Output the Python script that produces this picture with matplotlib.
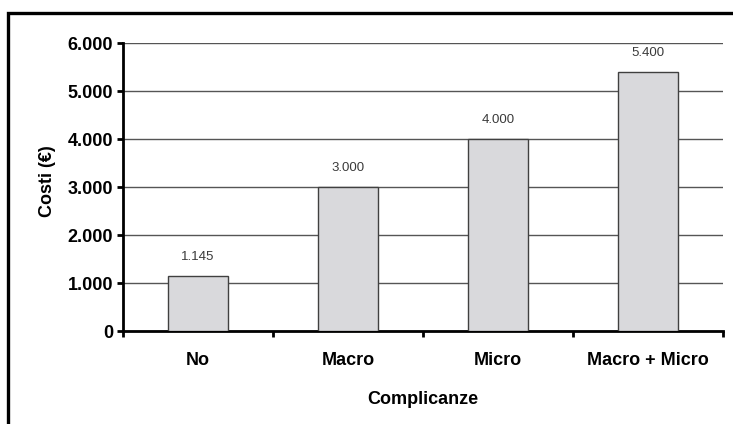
import matplotlib
matplotlib.use("Agg")
from matplotlib import pyplot as plt
from matplotlib.patches import Rectangle

categorie = ["No", "Macro", "Micro", "Macro + Micro"]
costi = [1145, 3000, 4000, 5400]
etichette = ["1.145", "3.000", "4.000", "5.400"]
yticks = [0, 1000, 2000, 3000, 4000, 5000, 6000]
ytick_labels = ["0", "1.000", "2.000", "3.000", "4.000", "5.000", "6.000"]

plt.rcParams['font.family'] = ['Liberation Sans', 'DejaVu Sans']

fig = plt.figure(figsize=(7.33, 4.24), dpi=100)
ax = fig.add_axes([123 / 733, 93 / 424, 600 / 733, 288 / 424])

# cornice esterna attorno al grafico
fig.patches.append(Rectangle((8 / 733, -0.1), 1.2, (424 - 13) / 424 + 0.1,
                             transform=fig.transFigure, fill=False,
                             edgecolor='black', linewidth=2.4, clip_on=False))

x = list(range(len(categorie)))
ax.bar(x, costi, width=0.4, color='#d9d9dc', edgecolor='#404040',
       linewidth=1.0, zorder=3)

for xi, v, lab in zip(x, costi, etichette):
    ax.annotate(lab, (xi, v), xytext=(0, 13.5), textcoords='offset points',
                ha='center', va='center', fontsize=9.5, color='#3a3a3a')

ax.set_xlim(-0.5, 3.5)
ax.set_ylim(0, 6000)
ax.set_yticks(yticks)
ax.set_yticklabels(ytick_labels, fontsize=13, fontweight='bold')
ax.yaxis.grid(True, color='#555555', linewidth=1.0, zorder=0)
ax.set_axisbelow(True)

# tacche sui confini delle categorie, etichette al centro
ax.set_xticks([-0.5, 0.5, 1.5, 2.5, 3.5])
ax.set_xticklabels([])
ax.set_xticks(x, minor=True)
ax.set_xticklabels(categorie, minor=True, fontsize=13, fontweight='bold')
ax.tick_params(axis='x', which='minor', length=0, pad=15)
ax.tick_params(axis='both', which='major', length=4, width=2, direction='out')
ax.tick_params(axis='y', pad=3)

for s in ['top', 'right']:
    ax.spines[s].set_visible(False)
for s in ['left', 'bottom']:
    ax.spines[s].set_linewidth(2)

ax.set_xlabel("Complicanze", fontsize=13, fontweight='bold', labelpad=16)
ax.set_ylabel("Costi (€)", fontsize=13, fontweight='bold')
ax.yaxis.set_label_coords(-67 / 600, 0.52)

fig.savefig("out.png", dpi=100)
